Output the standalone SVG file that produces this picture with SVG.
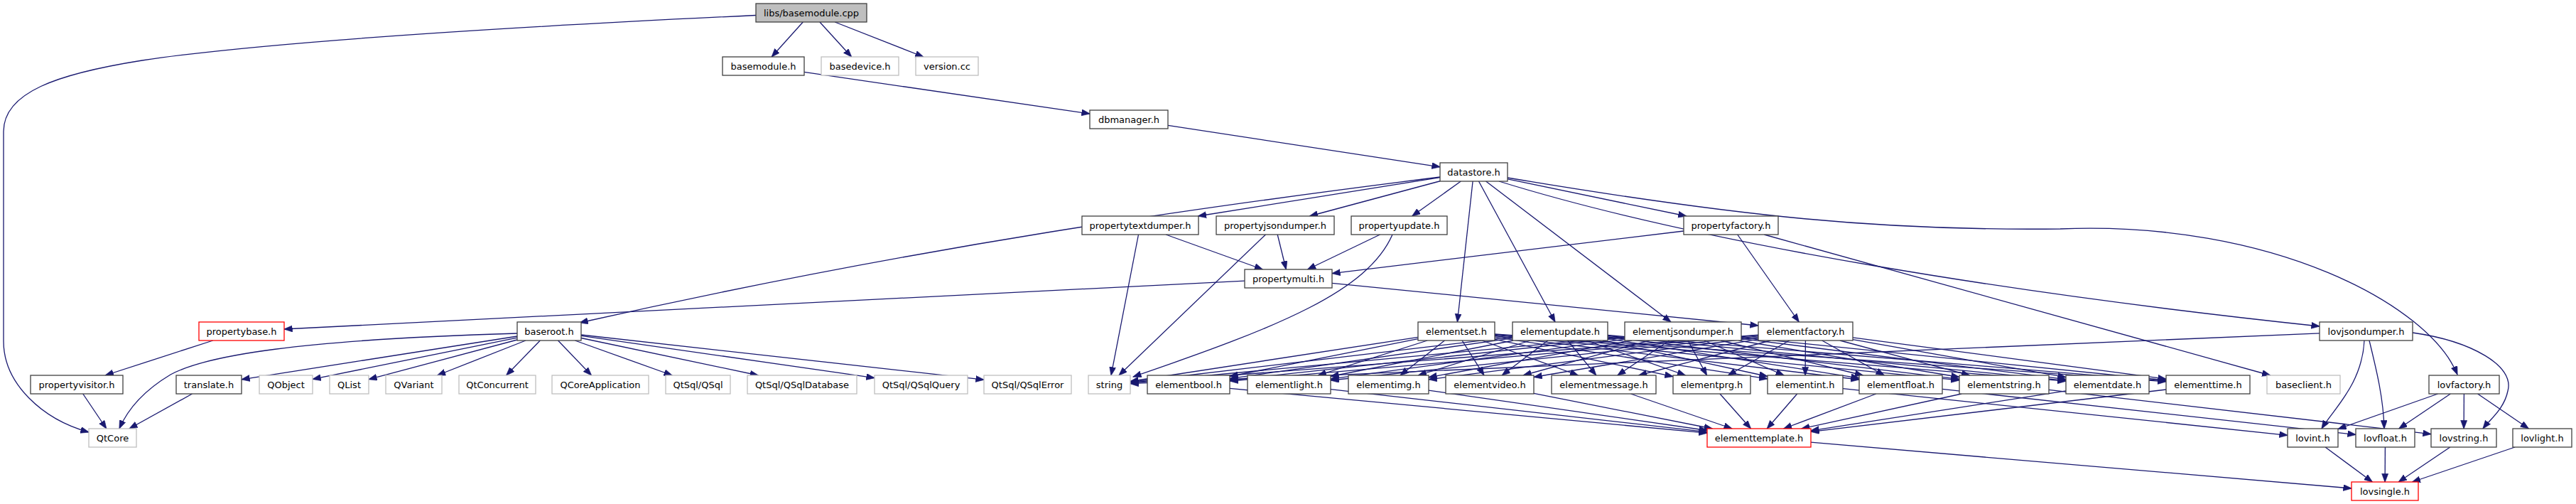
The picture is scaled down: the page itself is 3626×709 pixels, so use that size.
<svg xmlns="http://www.w3.org/2000/svg" width="3626" height="709" viewBox="0 0 3626 709">
<style>
.bg{fill:#ffffff}
.e{fill:none;stroke:#191970;stroke-width:1.3;marker-end:url(#ah)}
.n rect{fill:#ffffff;stroke:#404040;stroke-width:1.3}
.g rect{fill:#ffffff;stroke:#bfbfbf;stroke-width:1.3}
.r rect{fill:#ffffff;stroke:#ff0000;stroke-width:1.3}
.root rect{fill:#bfbfbf;stroke:#404040;stroke-width:1.3}
text{font-family:"DejaVu Sans","Liberation Sans",sans-serif;font-size:13px;fill:#000000;text-anchor:middle}
</style>
<defs>
<marker id="ah" markerUnits="userSpaceOnUse" markerWidth="13" markerHeight="10" viewBox="0 0 13 10" refX="11.6" refY="4.5" orient="auto">
<path d="M0,0 L12,4.5 L0,9 z" fill="#191970" stroke="#191970" stroke-width="0.6"/>
</marker>
</defs>
<rect class="bg" x="0" y="0" width="3626" height="709"/>
<g id="edges">
<path class="e" d="M1130.3,31 L1086.2,80"/>
<path class="e" d="M1153.9,31 L1198.6,80"/>
<path class="e" d="M1175.1,31 L1299.9,80"/>
<path class="e" d="M1064,21.5 C800,34 400,55 200,85 C80,104 5,130 5,185 L5,480 C5,540 60,590 125,608"/>
<path class="e" d="M1132,101.4 L1534,160"/>
<path class="e" d="M1644,176.4 L2027,234.8"/>
<path class="e" d="M2027,249 C1700,290 1300,345 816,454"/>
<path class="e" d="M2027,249.6 L1686.4,304"/>
<path class="e" d="M2027,254.75 L1843.4,304"/>
<path class="e" d="M2056.3,255 L1987.7,304"/>
<path class="e" d="M2073.1,255 L2051.4,453"/>
<path class="e" d="M2081.5,255 L2189,453"/>
<path class="e" d="M2091.6,255 L2352,453"/>
<path class="e" d="M2122,251.8 L2373.8,304"/>
<path class="e" d="M2110,255 C2400,345 2850,415 3265,459"/>
<path class="e" d="M2122,250 C2450,305 2650,325 2900,322 C3200,310 3420,430 3459,527"/>
<path class="e" d="M1641.1,330 L1777.4,379"/>
<path class="e" d="M1602.5,330 L1564,528"/>
<path class="e" d="M1798.2,330 L1810.3,379"/>
<path class="e" d="M1781.5,330 L1575,528"/>
<path class="e" d="M1942.5,330 L1840.5,379"/>
<path class="e" d="M1960,330 C1925,410 1800,460 1595,530"/>
<path class="e" d="M2370,325 L1875,384.6"/>
<path class="e" d="M2445.7,330 L2532.3,453"/>
<path class="e" d="M2483.3,330 L3195.7,528"/>
<path class="e" d="M1752,395.1 L400,463"/>
<path class="e" d="M1875,398.3 L2475,458"/>
<path class="e" d="M299.8,479 L148.2,528"/>
<path class="e" d="M116.75,554 L149.75,603"/>
<path class="e" d="M270.5,554 L182,603"/>
<path class="e" d="M728,469 C420,478 290,500 240,527 C205,548 180,575 168,603"/>
<path class="e" d="M728,473 L340,533.8"/>
<path class="e" d="M728,475.1 L440,533.4"/>
<path class="e" d="M728,478 L519,533.7"/>
<path class="e" d="M740,479 L615.5,528"/>
<path class="e" d="M760.3,479 L712.65,528"/>
<path class="e" d="M785.5,479 L832.5,528"/>
<path class="e" d="M809.3,479 L946.2,528"/>
<path class="e" d="M818,475.5 L1067.3,528"/>
<path class="e" d="M818,472.4 L1231,531.6"/>
<path class="e" d="M818,471 L1385,534.2"/>
<path class="e" d="M1996,474.3 L1591,536.5"/>
<path class="e" d="M1996,476.7 L1731,529.5"/>
<path class="e" d="M2009.2,479 L1855.3,528"/>
<path class="e" d="M2033.45,479 L1971.05,528"/>
<path class="e" d="M2058.1,479 L2088.9,528"/>
<path class="e" d="M2086,479 L2221.5,528"/>
<path class="e" d="M2104,477.3 L2355,529.6"/>
<path class="e" d="M2104,474.2 L2488,532.9"/>
<path class="e" d="M2104,472.5 L2617,534"/>
<path class="e" d="M2104,471.3 L2758,534.9"/>
<path class="e" d="M2104,470.4 L2908,536.2"/>
<path class="e" d="M2104,469.8 L3049,536.8"/>
<path class="e" d="M2129,473.9 L1591,537.5"/>
<path class="e" d="M2129,475.6 L1731,532.7"/>
<path class="e" d="M2129.9,479 L1873,529.5"/>
<path class="e" d="M2154.15,479 L1996.35,528"/>
<path class="e" d="M2178.8,479 L2114.2,528"/>
<path class="e" d="M2206.7,479 L2246.8,528"/>
<path class="e" d="M2233,479 L2372.5,528"/>
<path class="e" d="M2255.8,479 L2488,529.5"/>
<path class="e" d="M2263,476.5 L2617,531.9"/>
<path class="e" d="M2263,474 L2758,533.4"/>
<path class="e" d="M2263,472.5 L2908,535.3"/>
<path class="e" d="M2263,471.5 L3049,536.1"/>
<path class="e" d="M2287,473.6 L1591,538.3"/>
<path class="e" d="M2287,474.8 L1731,534.7"/>
<path class="e" d="M2287,477.1 L1873,533.1"/>
<path class="e" d="M2297.2,479 L2011,530.8"/>
<path class="e" d="M2321.9,479 L2144.1,528"/>
<path class="e" d="M2349.7,479 L2276.8,528"/>
<path class="e" d="M2376,479 L2402.5,528"/>
<path class="e" d="M2398.8,479 L2511.2,528"/>
<path class="e" d="M2422.1,479 L2622.4,528"/>
<path class="e" d="M2447.3,479 L2758,530.5"/>
<path class="e" d="M2451,476.3 L2908,533.7"/>
<path class="e" d="M2451,474.3 L3049,535"/>
<path class="e" d="M2475,471.1 L1591,538.7"/>
<path class="e" d="M2475,471.7 L1731,536"/>
<path class="e" d="M2475,472.9 L1873,535"/>
<path class="e" d="M2475,474.5 L2011,533.8"/>
<path class="e" d="M2475,477.2 L2159,530.5"/>
<path class="e" d="M2492.3,479 L2306.7,528"/>
<path class="e" d="M2518.6,479 L2432.4,528"/>
<path class="e" d="M2541.4,479 L2541.1,528"/>
<path class="e" d="M2564.7,479 L2652.3,528"/>
<path class="e" d="M2589.9,479 L2772.6,528"/>
<path class="e" d="M2608,477.7 L2908,530.7"/>
<path class="e" d="M2608,474.8 L3049,533.2"/>
<path class="e" d="M1731,546.4 L2403,609.2"/>
<path class="e" d="M1873,547.6 L2403,607.7"/>
<path class="e" d="M2011,549.1 L2403,605.5"/>
<path class="e" d="M2159,553.3 L2410.3,603"/>
<path class="e" d="M2295.4,554 L2438.1,603"/>
<path class="e" d="M2421,554 L2464.5,603"/>
<path class="e" d="M2529.7,554 L2487.3,603"/>
<path class="e" d="M2640.9,554 L2510.6,603"/>
<path class="e" d="M2761.2,554 L2535.8,603"/>
<path class="e" d="M2908,549.9 L2549,605.8"/>
<path class="e" d="M3049,548 L2549,607.3"/>
<path class="e" d="M2594,546.6 L3220,612.3"/>
<path class="e" d="M2734,547.4 L3316,611.4"/>
<path class="e" d="M2884,548.3 L3422,610.7"/>
<path class="e" d="M2549,622.2 L3310,687"/>
<path class="e" d="M3265,468.8 L1591,539.7"/>
<path class="e" d="M3328,479 C3325,540 3285,575 3268,603"/>
<path class="e" d="M3335,479 C3345,520 3355,560 3356,603"/>
<path class="e" d="M3396,468 C3480,480 3540,515 3530,550 C3525,575 3505,590 3495,603"/>
<path class="e" d="M3431.6,554 L3291,603.5"/>
<path class="e" d="M3449.3,554 L3376.7,603"/>
<path class="e" d="M3468.4,554 L3468.1,603"/>
<path class="e" d="M3487.6,554 L3559.4,603"/>
<path class="e" d="M3273.1,629 L3339.4,678"/>
<path class="e" d="M3357.4,629 L3357.1,678"/>
<path class="e" d="M3448.8,629 L3376.2,678"/>
<path class="e" d="M3540.1,629 L3395.4,678"/>
</g>
<g id="n0" class="root"><rect x="1064" y="5" width="156" height="26"/><text x="1142" y="22.5">libs/basemodule.cpp</text></g>
<g id="n1" class="n"><rect x="1017" y="80" width="115" height="26"/><text x="1074.5" y="97.5">basemodule.h</text></g>
<g id="n2" class="g"><rect x="1156" y="80" width="109" height="26"/><text x="1210.5" y="97.5">basedevice.h</text></g>
<g id="n3" class="g"><rect x="1289" y="80" width="88" height="26"/><text x="1333" y="97.5">version.cc</text></g>
<g id="n4" class="n"><rect x="1534" y="155" width="110" height="26"/><text x="1589" y="172.5">dbmanager.h</text></g>
<g id="n5" class="n"><rect x="2027" y="229" width="95" height="26"/><text x="2074.5" y="246.5">datastore.h</text></g>
<g id="n6" class="n"><rect x="1523" y="304" width="164" height="26"/><text x="1605" y="321.5">propertytextdumper.h</text></g>
<g id="n7" class="n"><rect x="1712" y="304" width="166" height="26"/><text x="1795" y="321.5">propertyjsondumper.h</text></g>
<g id="n8" class="n"><rect x="1902" y="304" width="135" height="26"/><text x="1969.5" y="321.5">propertyupdate.h</text></g>
<g id="n9" class="n"><rect x="2370" y="304" width="133" height="26"/><text x="2436.5" y="321.5">propertyfactory.h</text></g>
<g id="n10" class="n"><rect x="1752" y="379" width="123" height="26"/><text x="1813.5" y="396.5">propertymulti.h</text></g>
<g id="n11" class="r"><rect x="280" y="453" width="120" height="26"/><text x="340" y="470.5">propertybase.h</text></g>
<g id="n12" class="n"><rect x="728" y="453" width="90" height="26"/><text x="773" y="470.5">baseroot.h</text></g>
<g id="n13" class="n"><rect x="1996" y="453" width="108" height="26"/><text x="2050" y="470.5">elementset.h</text></g>
<g id="n14" class="n"><rect x="2129" y="453" width="134" height="26"/><text x="2196" y="470.5">elementupdate.h</text></g>
<g id="n15" class="n"><rect x="2287" y="453" width="164" height="26"/><text x="2369" y="470.5">elementjsondumper.h</text></g>
<g id="n16" class="n"><rect x="2475" y="453" width="133" height="26"/><text x="2541.5" y="470.5">elementfactory.h</text></g>
<g id="n17" class="n"><rect x="3265" y="453" width="131" height="26"/><text x="3330.5" y="470.5">lovjsondumper.h</text></g>
<g id="n18" class="n"><rect x="43" y="528" width="130" height="26"/><text x="108" y="545.5">propertyvisitor.h</text></g>
<g id="n19" class="n"><rect x="248" y="528" width="92" height="26"/><text x="294" y="545.5">translate.h</text></g>
<g id="n20" class="g"><rect x="365" y="528" width="75" height="26"/><text x="402.5" y="545.5">QObject</text></g>
<g id="n21" class="g"><rect x="464" y="528" width="55" height="26"/><text x="491.5" y="545.5">QList</text></g>
<g id="n22" class="g"><rect x="543" y="528" width="79" height="26"/><text x="582.5" y="545.5">QVariant</text></g>
<g id="n23" class="g"><rect x="646" y="528" width="108" height="26"/><text x="700" y="545.5">QtConcurrent</text></g>
<g id="n24" class="g"><rect x="777" y="528" width="136" height="26"/><text x="845" y="545.5">QCoreApplication</text></g>
<g id="n25" class="g"><rect x="937" y="528" width="91" height="26"/><text x="982.5" y="545.5">QtSql/QSql</text></g>
<g id="n26" class="g"><rect x="1052" y="528" width="154" height="26"/><text x="1129" y="545.5">QtSql/QSqlDatabase</text></g>
<g id="n27" class="g"><rect x="1231" y="528" width="131" height="26"/><text x="1296.5" y="545.5">QtSql/QSqlQuery</text></g>
<g id="n28" class="g"><rect x="1385" y="528" width="123" height="26"/><text x="1446.5" y="545.5">QtSql/QSqlError</text></g>
<g id="n29" class="g"><rect x="1532" y="528" width="59" height="26"/><text x="1561.5" y="545.5">string</text></g>
<g id="n30" class="n"><rect x="1615" y="528" width="116" height="26"/><text x="1673" y="545.5">elementbool.h</text></g>
<g id="n31" class="n"><rect x="1756" y="528" width="117" height="26"/><text x="1814.5" y="545.5">elementlight.h</text></g>
<g id="n32" class="n"><rect x="1898" y="528" width="113" height="26"/><text x="1954.5" y="545.5">elementimg.h</text></g>
<g id="n33" class="n"><rect x="2035" y="528" width="124" height="26"/><text x="2097" y="545.5">elementvideo.h</text></g>
<g id="n34" class="n"><rect x="2184" y="528" width="147" height="26"/><text x="2257.5" y="545.5">elementmessage.h</text></g>
<g id="n35" class="n"><rect x="2355" y="528" width="109" height="26"/><text x="2409.5" y="545.5">elementprg.h</text></g>
<g id="n36" class="n"><rect x="2488" y="528" width="106" height="26"/><text x="2541" y="545.5">elementint.h</text></g>
<g id="n37" class="n"><rect x="2617" y="528" width="117" height="26"/><text x="2675.5" y="545.5">elementfloat.h</text></g>
<g id="n38" class="n"><rect x="2758" y="528" width="126" height="26"/><text x="2821" y="545.5">elementstring.h</text></g>
<g id="n39" class="n"><rect x="2908" y="528" width="117" height="26"/><text x="2966.5" y="545.5">elementdate.h</text></g>
<g id="n40" class="n"><rect x="3049" y="528" width="118" height="26"/><text x="3108" y="545.5">elementtime.h</text></g>
<g id="n41" class="g"><rect x="3191" y="528" width="103" height="26"/><text x="3242.5" y="545.5">baseclient.h</text></g>
<g id="n42" class="n"><rect x="3419" y="528" width="99" height="26"/><text x="3468.5" y="545.5">lovfactory.h</text></g>
<g id="n43" class="g"><rect x="125" y="603" width="67" height="26"/><text x="158.5" y="620.5">QtCore</text></g>
<g id="n44" class="r"><rect x="2403" y="603" width="146" height="26"/><text x="2476" y="620.5">elementtemplate.h</text></g>
<g id="n45" class="n"><rect x="3220" y="603" width="71" height="26"/><text x="3255.5" y="620.5">lovint.h</text></g>
<g id="n46" class="n"><rect x="3316" y="603" width="83" height="26"/><text x="3357.5" y="620.5">lovfloat.h</text></g>
<g id="n47" class="n"><rect x="3422" y="603" width="92" height="26"/><text x="3468" y="620.5">lovstring.h</text></g>
<g id="n48" class="n"><rect x="3537" y="603" width="83" height="26"/><text x="3578.5" y="620.5">lovlight.h</text></g>
<g id="n49" class="r"><rect x="3310" y="678" width="94" height="26"/><text x="3357" y="695.5">lovsingle.h</text></g>
</svg>
